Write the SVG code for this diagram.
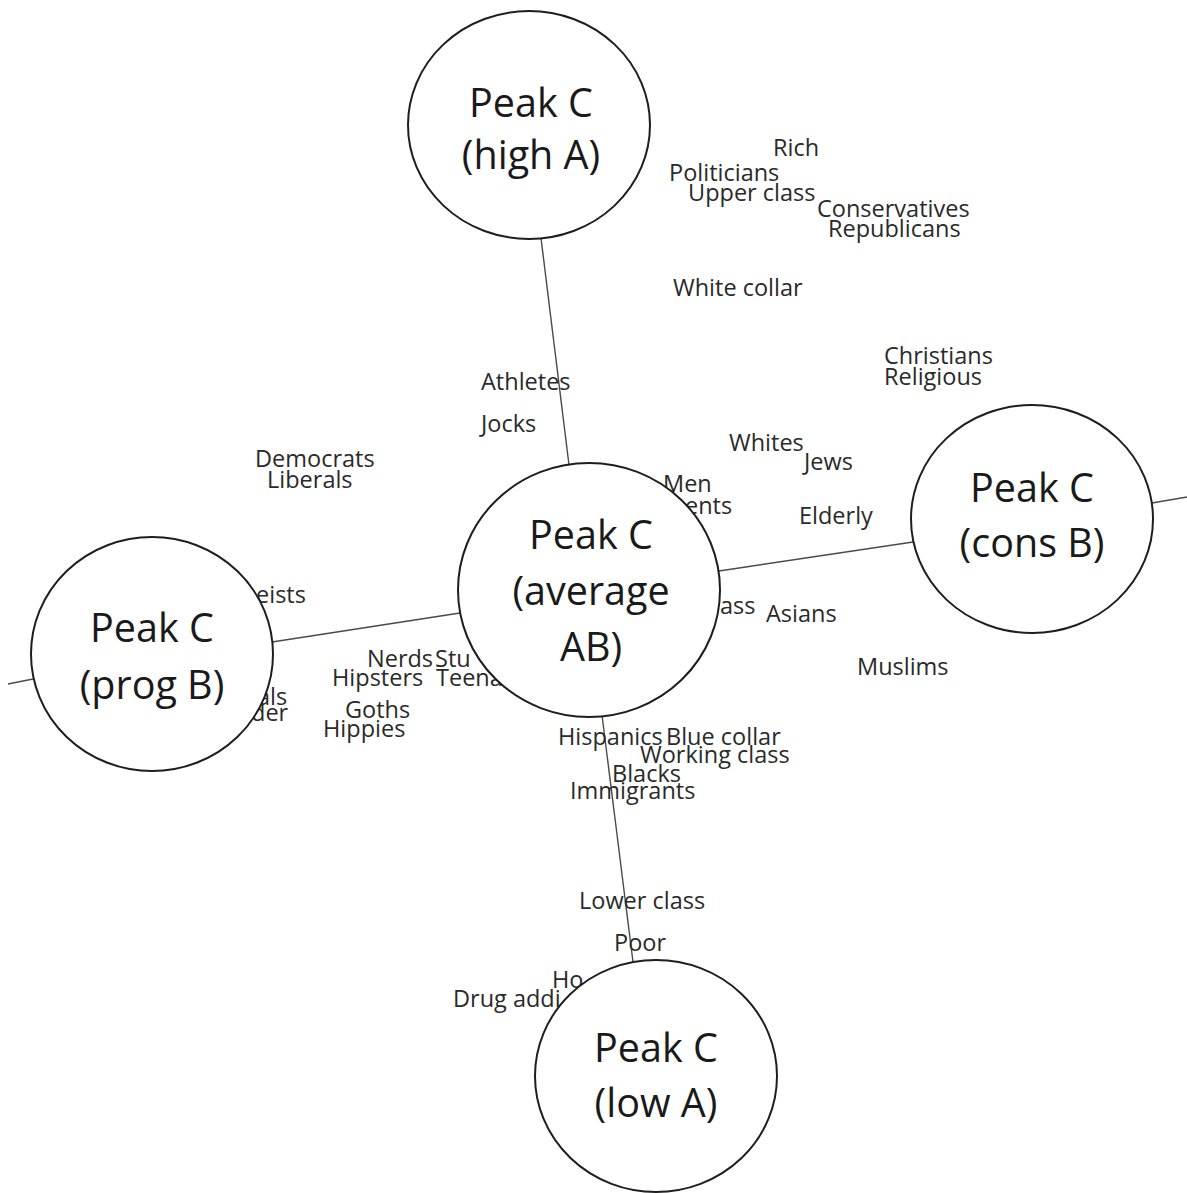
<svg xmlns="http://www.w3.org/2000/svg" width="1187" height="1193" viewBox="0 0 1187 1193">
<style>
.bg{fill:#ffffff}
.conn{stroke:#4a4a4a;stroke-width:1.4;fill:none}
.node{fill:#ffffff;stroke:#1e1e1e;stroke-width:2}
.nt{font-family:"Open Sans","Noto Sans","Liberation Sans",sans-serif;font-size:39.5px;fill:#1a1a1a;text-anchor:middle}
.lb{font-family:"Open Sans","Noto Sans","Liberation Sans",sans-serif;font-size:23.5px;fill:#2a2a2a}
</style>
<rect class="bg" x="0" y="0" width="1187" height="1193"/>
<g id="connectors">
<line class="conn" x1="541" y1="238" x2="569" y2="465"/>
<line class="conn" x1="602" y1="715" x2="633" y2="962"/>
<line class="conn" x1="272" y1="642" x2="460" y2="613"/>
<line class="conn" x1="8" y1="684" x2="33" y2="679"/>
<line class="conn" x1="719" y1="571" x2="913" y2="542"/>
<line class="conn" x1="1152" y1="503" x2="1187" y2="497"/>
</g>
<g id="labels">
<text class="lb" x="773" y="156">Rich</text>
<text class="lb" x="669" y="181">Politicians</text>
<text class="lb" x="688" y="201">Upper class</text>
<text class="lb" x="817" y="217">Conservatives</text>
<text class="lb" x="828" y="237">Republicans</text>
<text class="lb" x="673" y="296">White collar</text>
<text class="lb" x="884" y="364">Christians</text>
<text class="lb" x="884" y="385">Religious</text>
<text class="lb" x="481" y="390">Athletes</text>
<text class="lb" x="481" y="432">Jocks</text>
<text class="lb" x="255" y="467">Democrats</text>
<text class="lb" x="267" y="488">Liberals</text>
<text class="lb" x="729" y="451">Whites</text>
<text class="lb" x="804" y="470">Jews</text>
<text class="lb" x="663" y="492">Men</text>
<text class="lb" x="685" y="514">ents</text>
<text class="lb" x="799" y="524">Elderly</text>
<text class="lb" x="256" y="603">eists</text>
<text class="lb" x="720" y="614">ass</text>
<text class="lb" x="766" y="622">Asians</text>
<text class="lb" x="857" y="675">Muslims</text>
<text class="lb" x="367" y="667">Nerds</text>
<text class="lb" x="435" y="667">Stu</text>
<text class="lb" x="332" y="686">Hipsters</text>
<text class="lb" x="436" y="686">Teena</text>
<text class="lb" x="257" y="705">als</text>
<text class="lb" x="251" y="721">der</text>
<text class="lb" x="345" y="718">Goths</text>
<text class="lb" x="323" y="737">Hippies</text>
<text class="lb" x="558" y="745">Hispanics</text>
<text class="lb" x="666" y="745">Blue collar</text>
<text class="lb" x="640" y="763">Working class</text>
<text class="lb" x="612" y="782">Blacks</text>
<text class="lb" x="570" y="799">Immigrants</text>
<text class="lb" x="579" y="909">Lower class</text>
<text class="lb" x="614" y="951">Poor</text>
<text class="lb" x="552" y="988">Ho</text>
<text class="lb" x="453" y="1007">Drug addi</text>
</g>
<g id="node-high-a">
<ellipse class="node" cx="529" cy="125" rx="121" ry="114"/>
<text class="nt" x="531" y="117">Peak C</text>
<text class="nt" x="531" y="169">(high A)</text>
</g>
<g id="node-average-ab">
<ellipse class="node" cx="589" cy="590" rx="131" ry="127"/>
<text class="nt" x="591" y="549">Peak C</text>
<text class="nt" x="591" y="605">(average</text>
<text class="nt" x="591" y="661">AB)</text>
</g>
<g id="node-prog-b">
<ellipse class="node" cx="152" cy="654" rx="121" ry="117"/>
<text class="nt" x="152" y="642">Peak C</text>
<text class="nt" x="152" y="699">(prog B)</text>
</g>
<g id="node-cons-b">
<ellipse class="node" cx="1032" cy="519" rx="121" ry="114"/>
<text class="nt" x="1032" y="502">Peak C</text>
<text class="nt" x="1032" y="557">(cons B)</text>
</g>
<g id="node-low-a">
<ellipse class="node" cx="656" cy="1076" rx="121" ry="116"/>
<text class="nt" x="656" y="1062">Peak C</text>
<text class="nt" x="656" y="1117">(low A)</text>
</g>
</svg>
